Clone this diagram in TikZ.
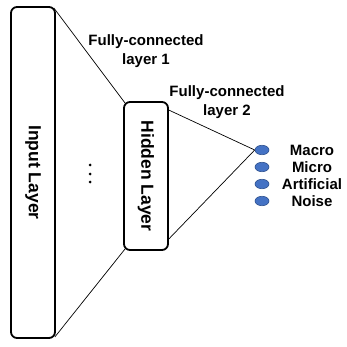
\documentclass[tikz,border=0pt]{standalone}
\usepackage{fontspec}
\setsansfont{Liberation Sans}
\usetikzlibrary{shapes.geometric,positioning}
\definecolor{unitBlue}{HTML}{4472C4}
\definecolor{unitEdge}{HTML}{2F528F}

\tikzset{
  layerbox/.style={draw,line width=1.8pt,rounded corners=6pt,inner sep=0pt},
  layertext/.style={rotate=-90,font=\sffamily\bfseries\fontsize{17.5}{19}\selectfont},
  unit/.style={ellipse,draw=unitEdge,fill=unitBlue,line width=0.6pt,
    minimum width=14pt,minimum height=9.5pt,inner sep=0pt},
  lbl/.style={font=\sffamily\bfseries\fontsize{15}{18.5}\selectfont,align=center,inner sep=0pt}
}

\begin{document}
\begin{tikzpicture}[x=1pt,y=-1pt]
    \useasboundingbox (0,0) rectangle (346,347);

    \node[layerbox,minimum width=44pt,minimum height=331pt] (input) at (33,172.5) {};
    \node[layertext] (inlbl) at (input) {Input Layer};
    \node[layerbox,minimum width=44pt,minimum height=148pt] (hidden) at (146,176) {};
    \node[layertext] (hidlbl) at (hidden) {Hidden Layer};

    \foreach \y [count=\i] in {165,174,182}
      \fill (90,\y) circle (1.5pt) coordinate (dot\i);

    \node[unit] (u1) at (262,150) {};
    \node[unit] (u2) at (262,167) {};
    \node[unit] (u3) at (262,184) {};
    \node[unit] (u4) at (262,201) {};
    \node[lbl] (macro) at (312,150) {Macro};
    \node[lbl] (micro) at (312,167) {Micro};
    \node[lbl] (artificial) at (312,184) {Artificial};
    \node[lbl] (noise) at (312,201) {Noise};

    \draw[line width=0.7pt] ([xshift=-2pt,yshift=-2pt]input.north east) -- ([xshift=2pt,yshift=-2pt]hidden.north west);
    \draw[line width=0.7pt] ([xshift=-1pt,yshift=2pt]input.south east) -- ([xshift=2pt,yshift=2pt]hidden.south west);
    \draw[line width=0.7pt] ([yshift=-9pt]hidden.north east) -- (u1.west);
    \draw[line width=0.7pt] ([yshift=12pt]hidden.south east) -- (u1.west);

    \node[lbl] (fc1) at (146,51) {Fully-connected\\layer 1};
    \node[lbl] (fc2) at (227,102) {Fully-connected\\layer 2};
  \end{tikzpicture}
\end{document}
